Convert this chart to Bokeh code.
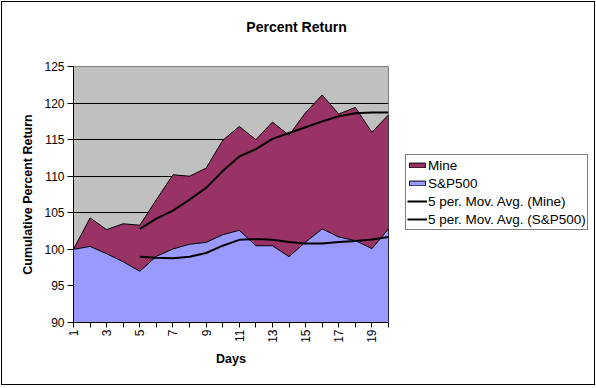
from math import pi
from bokeh.plotting import figure
from bokeh.layouts import column, row
from bokeh.models import Range1d, Legend, LegendItem, Label
from bokeh.embed import file_html
from bokeh.resources import INLINE

# ---- data ----
days = list(range(1, 21))
mine = [100.0, 104.3, 102.7, 103.5, 103.3, 106.8, 110.2, 110.0, 111.1, 114.9,
        116.8, 115.0, 117.4, 115.6, 118.7, 121.1, 118.5, 119.4, 116.0, 118.4]
sp500 = [100.0, 100.4, 99.4, 98.3, 97.0, 99.05, 100.05, 100.7, 100.95, 102.0,
         102.6, 100.5, 100.5, 99.0, 101.0, 102.8, 101.7, 101.2, 100.1, 102.8]
ma_days = list(range(5, 21))
ma_mine = [102.8, 104.2, 105.3, 106.8, 108.4, 110.7, 112.7, 113.7,
           115.1, 115.9, 116.7, 117.5, 118.2, 118.6, 118.7, 118.7]
ma_sp500 = [99.0, 98.85, 98.8, 99.0, 99.5, 100.5, 101.3, 101.4,
            101.3, 101.0, 100.8, 100.8, 101.0, 101.15, 101.35, 101.7]
y_ticks = [90, 95, 100, 105, 110, 115, 120, 125]
x_tick_labels = {d: (str(d) if d % 2 == 1 else "") for d in days}
series_labels = ["Mine", "S&P500", "5 per. Mov. Avg. (Mine)", "5 per. Mov. Avg. (S&P500)"]
chart_title = "Percent Return"

FONT = "Liberation Sans"
C_MINE = "#993366"
C_SP = "#9999FF"

W, TITLE_H, MAIN_H, MAIN_W = 596, 56, 330, 400


def clear_fig(f):
    f.outline_line_color = None
    f.grid.visible = False
    f.border_fill_alpha = 0
    f.background_fill_alpha = 0


# ---- title strip ----
pt = figure(width=W, height=TITLE_H, output_backend="svg", toolbar_location=None,
            x_range=Range1d(0, W), y_range=Range1d(0, TITLE_H),
            x_axis_type=None, y_axis_type=None, min_border=0)
clear_fig(pt)
pt.add_layout(Label(x=296, y=TITLE_H - 26, text=chart_title, text_align="center",
                    text_baseline="middle", text_font=FONT, text_font_size="14px",
                    text_font_style="bold", text_color="black"))

# ---- main chart ----
p = figure(width=MAIN_W, height=MAIN_H, output_backend="svg", toolbar_location=None,
           x_range=Range1d(days[0], days[-1]), y_range=Range1d(y_ticks[0], y_ticks[-1]),
           min_border_left=73, min_border_right=MAIN_W - 73 - 315,
           min_border_top=10, min_border_bottom=MAIN_H - 10 - 256)
p.background_fill_color = "#C0C0C0"
p.border_fill_alpha = 0
p.outline_line_color = "#808080"
p.outline_line_width = 1

base = [y_ticks[0]] * 2
p.patch(x=days + [days[-1], days[0]], y=mine + base,
        fill_color=C_MINE, line_color="black", line_width=1)
p.patch(x=days + [days[-1], days[0]], y=sp500 + base,
        fill_color=C_SP, line_color="black", line_width=1)
p.line(ma_days, ma_mine, line_color="black", line_width=2)
p.line(ma_days, ma_sp500, line_color="black", line_width=2)

p.yaxis.ticker = y_ticks
p.xaxis.ticker = days
p.xaxis.major_label_overrides = x_tick_labels
p.xaxis.major_label_orientation = pi / 2
for ax in (p.xaxis[0], p.yaxis[0]):
    ax.axis_line_color = "black"
    ax.major_tick_line_color = "black"
    ax.major_tick_in = 0
    ax.major_tick_out = 5
    ax.minor_tick_line_color = None
    ax.major_label_text_font = FONT
    ax.major_label_text_font_size = "12px"
    ax.major_label_text_color = "black"
    ax.axis_label_text_font = FONT
    ax.axis_label_text_font_size = "12.5px"
    ax.axis_label_text_font_style = "bold"
    ax.axis_label_text_color = "black"
p.yaxis.major_tick_out = 6
p.yaxis.major_label_standoff = 3
p.yaxis.axis_label = "Cumulative Percent Return"
p.yaxis.axis_label_standoff = 6
p.xaxis.axis_label = "Days"
p.xaxis.major_label_standoff = 2
p.xaxis.axis_label_standoff = 6

p.xgrid.visible = False
p.ygrid.ticker = y_ticks
p.ygrid.grid_line_color = "black"
p.ygrid.grid_line_width = 1

# ---- legend panel: same series drawn off-screen so only the legend shows ----
LW = W - MAIN_W
pl = figure(width=LW, height=MAIN_H, output_backend="svg", toolbar_location=None,
            x_range=Range1d(-LW, 0), y_range=Range1d(0, MAIN_H),
            x_axis_type=None, y_axis_type=None, min_border=0)
clear_fig(pl)
g1 = pl.patch(x=days + [days[-1], days[0]], y=mine + base,
              fill_color=C_MINE, line_color="black", line_width=1)
g2 = pl.patch(x=days + [days[-1], days[0]], y=sp500 + base,
              fill_color=C_SP, line_color="black", line_width=1)
g3 = pl.line(ma_days, ma_mine, line_color="black", line_width=2)
g4 = pl.line(ma_days, ma_sp500, line_color="black", line_width=2)
legend = Legend(items=[LegendItem(label=lab, renderers=[g])
                       for lab, g in zip(series_labels, [g1, g2, g3, g4])],
                location=(5, 92))
legend.border_line_color = "black"
legend.border_line_width = 1
legend.background_fill_color = "white"
legend.background_fill_alpha = 1
legend.padding = 1
legend.spacing = 0
legend.margin = 0
legend.glyph_width = 20
legend.glyph_height = 6
legend.label_height = 18
legend.label_standoff = 1
legend.label_text_font = FONT
legend.label_text_font_size = "13.5px"
legend.label_text_color = "black"
pl.add_layout(legend, "center")

layout = column(pt, row(p, pl, spacing=0), spacing=0)
layout.styles = {"outline": "1px solid black", "outline-offset": "-2px"}

open("out.html", "w").write(file_html(layout, INLINE))
